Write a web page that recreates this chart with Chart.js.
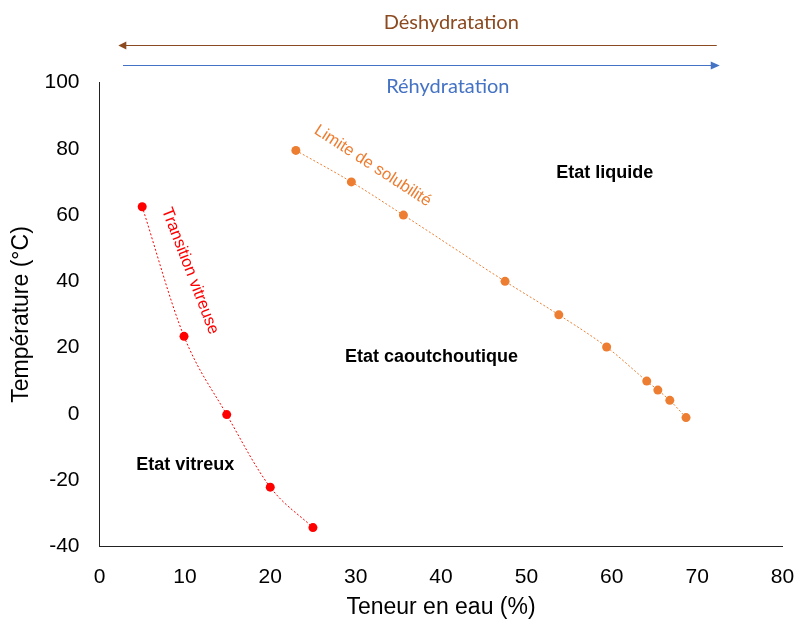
<!DOCTYPE html>
<html>
<head>
<meta charset="utf-8">
<script src="https://cdn.jsdelivr.net/npm/chart.js@4"></script>
<style>
  body { margin: 0; background: #fff; }
  #wrap { width: 798px; height: 621px; }
</style>
</head>
<body>
<div id="wrap"><canvas id="chart"></canvas></div>
<script>
// water content (%) and temperature (°C)
const glassX = [5, 9.9, 14.9, 20, 25];
const glassY = [62.5, 23.4, -0.2, -22.1, -34.3];
const solX = [23, 29.5, 35.6, 47.5, 53.8, 59.4, 64.1, 65.4, 66.8, 68.7];
const solY = [79.5, 70, 60, 40, 29.9, 20.2, 9.9, 7.2, 4.1, -1.1];
const xTicks = [0, 80, 10];
const yTicks = [-40, 100, 20];

const toPts = (xs, ys) => xs.map((x, i) => ({ x: x, y: ys[i] }));

// region labels, in data units
const regionLabels = [
  { text: "Etat liquide", x: 53.5, y: 72.7 },
  { text: "Etat caoutchoutique", x: 28.75, y: 17.2 },
  { text: "Etat vitreux", x: 4.3, y: -15.4 }
];

const extras = {
  id: "extras",
  afterDraw(chart) {
    const c = chart.ctx;
    const xs = chart.scales.x;
    const ys = chart.scales.y;
    const top = chart.chartArea.top;
    c.save();

    // region labels
    c.fillStyle = "#000";
    c.font = "bold 18px 'Liberation Sans', Arial";
    c.textBaseline = "middle";
    c.textAlign = "left";
    regionLabels.forEach(l => {
      c.fillText(l.text, xs.getPixelForValue(l.x), ys.getPixelForValue(l.y));
    });

    // rotated curve labels
    c.font = "16.5px 'Liberation Sans', Arial";
    c.textAlign = "center";
    c.fillStyle = "#ED7D31";
    c.save();
    c.translate(xs.getPixelForValue(32.0), ys.getPixelForValue(74.8));
    c.rotate(33 * Math.PI / 180);
    c.fillText("Limite de solubilité", 0, 0);
    c.restore();

    c.fillStyle = "#FF0000";
    c.save();
    c.translate(xs.getPixelForValue(10.6), ys.getPixelForValue(43.1));
    c.rotate(69 * Math.PI / 180);
    c.fillText("Transition vitreuse", 0, 0);
    c.restore();

    // arrows above
    const brown = "#8C4A20";
    const blue = "#4472C4";
    const x1 = xs.getPixelForValue(2.2);
    const x2 = xs.getPixelForValue(72.3);
    const x3 = xs.getPixelForValue(2.75);
    let y = top - 37;
    c.strokeStyle = brown;
    c.fillStyle = brown;
    c.lineWidth = 1.2;
    c.beginPath();
    c.moveTo(x1 + 6, y);
    c.lineTo(x2, y);
    c.stroke();
    c.beginPath();
    c.moveTo(x1, y);
    c.lineTo(x1 + 8, y - 4);
    c.lineTo(x1 + 8, y + 4);
    c.closePath();
    c.fill();

    y = top - 17;
    c.strokeStyle = blue;
    c.fillStyle = blue;
    c.beginPath();
    c.moveTo(x3, y);
    c.lineTo(x2 - 4, y);
    c.stroke();
    c.beginPath();
    c.moveTo(x2 + 3, y);
    c.lineTo(x2 - 6, y - 4);
    c.lineTo(x2 - 6, y + 4);
    c.closePath();
    c.fill();

    c.font = "20px Lato, 'Open Sans', sans-serif";
    c.textAlign = "center";
    c.fillStyle = brown;
    c.fillText("Déshydratation", xs.getPixelForValue(41.2), top - 60);
    c.fillStyle = blue;
    c.fillText("Réhydratation", xs.getPixelForValue(40.8), top + 4);

    c.restore();
  }
};

const axisFont = { family: "'Liberation Sans', Arial", size: 21 };
const titleFont = { family: "'Liberation Sans', Arial", size: 23 };

new Chart(document.getElementById("chart"), {
  type: "scatter",
  data: {
    datasets: [
      {
        data: toPts(glassX, glassY),
        showLine: true,
        cubicInterpolationMode: "monotone",
        borderColor: "#FF0000",
        backgroundColor: "#FF0000",
        borderWidth: 1,
        borderDash: [2, 2],
        pointRadius: 4.5,
        pointBorderWidth: 0
      },
      {
        data: toPts(solX, solY),
        showLine: true,
        cubicInterpolationMode: "monotone",
        borderColor: "#ED7D31",
        backgroundColor: "#ED7D31",
        borderWidth: 1,
        borderDash: [2, 2],
        pointRadius: 4.5,
        pointBorderWidth: 0
      }
    ]
  },
  options: {
    responsive: true,
    maintainAspectRatio: false,
    animation: false,
    layout: { padding: { top: 82.5, right: 15.5, bottom: 0, left: 0 } },
    plugins: {
      legend: { display: false },
      tooltip: { enabled: false }
    },
    scales: {
      x: {
        min: xTicks[0],
        max: xTicks[1],
        ticks: { stepSize: xTicks[2], color: "#000", font: axisFont, padding: 18 },
        grid: { display: false, drawTicks: false },
        border: { display: true, color: "#222", width: 1 },
        title: { display: true, text: "Teneur en eau (%)", color: "#000", font: titleFont, padding: { top: 0, bottom: 0 } },
        afterFit(s) {
          s.height = 74.5;
          s.paddingLeft = 0;
          s.paddingRight = 0;
        }
      },
      y: {
        min: yTicks[0],
        max: yTicks[1],
        ticks: { stepSize: yTicks[2], color: "#000", font: axisFont, padding: 20 },
        grid: { display: false, drawTicks: false },
        border: { display: true, color: "#222", width: 1 },
        title: { display: true, text: "Température (°C)", color: "#000", font: titleFont, padding: { top: 8, bottom: 0 } },
        afterFit(s) { s.width = 99.5; }
      }
    }
  },
  plugins: [extras]
});
</script>
</body>
</html>
